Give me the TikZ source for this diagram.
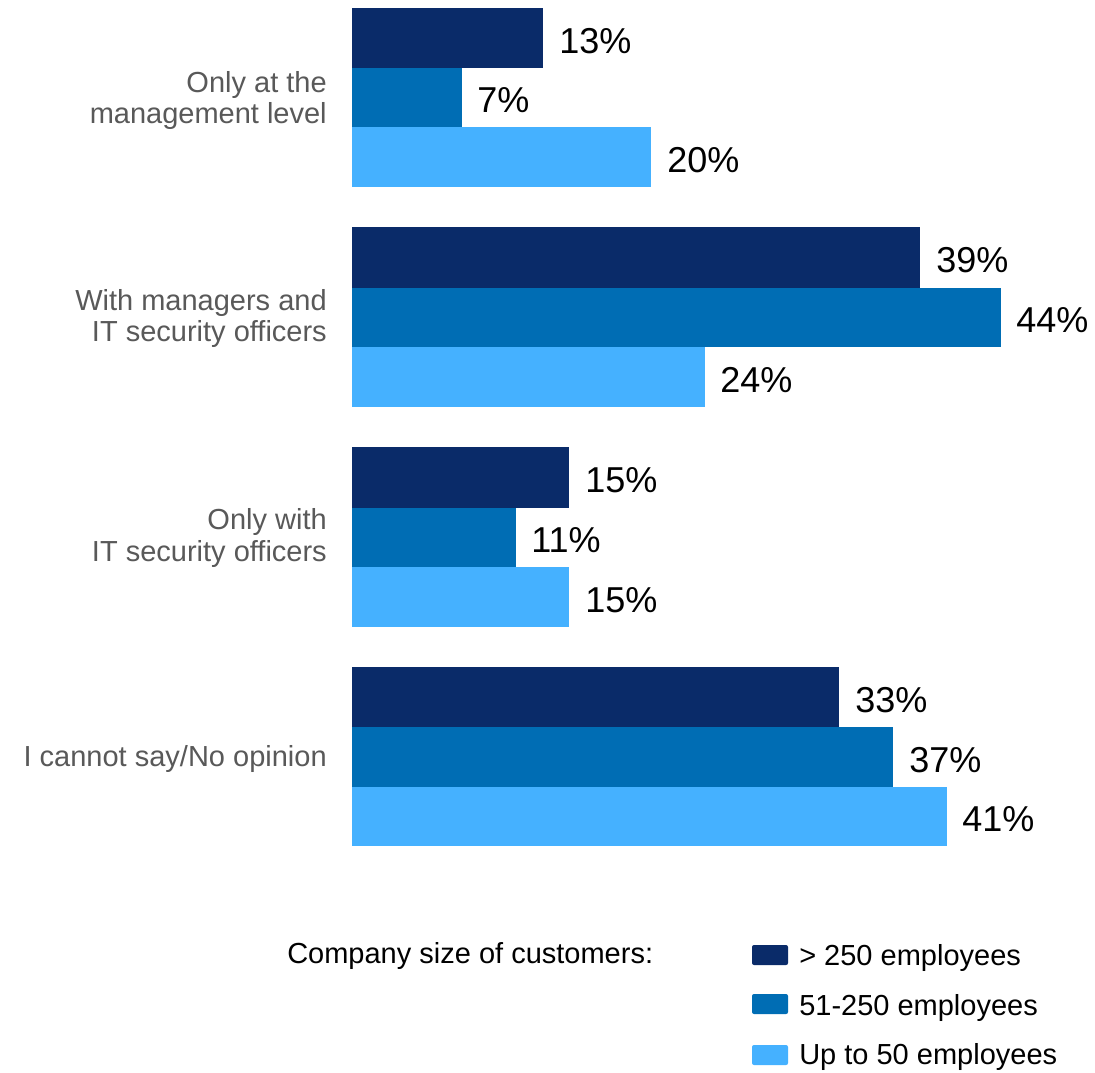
\documentclass[tikz,border=0pt]{standalone}
\usepackage{fontspec}
\setmainfont{Liberation Sans}
\definecolor{cdark}{RGB}{10,43,105}
\definecolor{cmid}{RGB}{0,109,180}
\definecolor{clight}{RGB}{69,177,255}
\definecolor{cgray}{RGB}{89,89,89}
\tikzset{
  barbox/.style={inner sep=0pt, outer sep=0pt},
  vallabel/.style={inner sep=0pt, anchor=base west, font=\fontsize{27pt}{32pt}\selectfont, text=black},
  catlabel/.style={inner sep=0pt, anchor=base east, font=\fontsize{21.75pt}{26pt}\selectfont, text=cgray},
  legtext/.style={inner sep=0pt, anchor=base west, font=\fontsize{21.75pt}{26pt}\selectfont, text=black},
  legswatch/.style={rounded corners=1.5pt}
}
\begin{document}
\begin{tikzpicture}[x=0.75pt,y=-0.75pt]
\useasboundingbox (0,0) rectangle (1095,1072);
\fill[white] (0,0) rectangle (1095,1072);
% bars: start x=352
% group 1
\fill[cdark]  (352,8)   rectangle (543,68);
\fill[cmid]   (352,68)  rectangle (462,127);
\fill[clight] (352,127) rectangle (651,187);
% group 2
\fill[cdark]  (352,227) rectangle (920,288);
\fill[cmid]   (352,288) rectangle (1001,347);
\fill[clight] (352,347) rectangle (705,407);
% group 3
\fill[cdark]  (352,447) rectangle (569,508);
\fill[cmid]   (352,508) rectangle (516,567);
\fill[clight] (352,567) rectangle (569,627);
% group 4
\fill[cdark]  (352,667) rectangle (839,727);
\fill[cmid]   (352,727) rectangle (893,787);
\fill[clight] (352,787) rectangle (947,846);
% value labels
\node[vallabel] (v11) at (559,53)  {13\%};
\node[vallabel] (v12) at (477,112) {7\%};
\node[vallabel] (v13) at (667,172) {20\%};
\node[vallabel] (v21) at (936,272) {39\%};
\node[vallabel] (v22) at (1016,332) {44\%};
\node[vallabel] (v23) at (720,392) {24\%};
\node[vallabel] (v31) at (585,492) {15\%};
\node[vallabel] (v32) at (531,552) {11\%};
\node[vallabel] (v33) at (585,612) {15\%};
\node[vallabel] (v41) at (855,712) {33\%};
\node[vallabel] (v42) at (909,772) {37\%};
\node[vallabel] (v43) at (962,831) {41\%};
% category labels
\node[catlabel] (c1a) at (327,92)  {Only at the};
\node[catlabel] (c1b) at (327,123) {management level};
\node[catlabel] (c2a) at (327,310) {With managers and};
\node[catlabel] (c2b) at (327,341) {IT security officers};
\node[catlabel] (c3a) at (327,529) {Only with};
\node[catlabel] (c3b) at (327,561) {IT security officers};
\node[catlabel] (c4)  at (327,766) {I cannot say/No opinion};
% legend
\node[legtext] (lh) at (287,963) {Company size of customers:};
\fill[cdark,legswatch]  (752,945)  rectangle (788,965);
\fill[cmid,legswatch]   (752,994)  rectangle (788,1014);
\fill[clight,legswatch] (752,1045) rectangle (788,1065);
\node[legtext] (l1) at (799,965)  {> 250 employees};
\node[legtext] (l2) at (799,1015) {51-250 employees};
\node[legtext] (l3) at (799,1064) {Up to 50 employees};
\end{tikzpicture}
\end{document}
